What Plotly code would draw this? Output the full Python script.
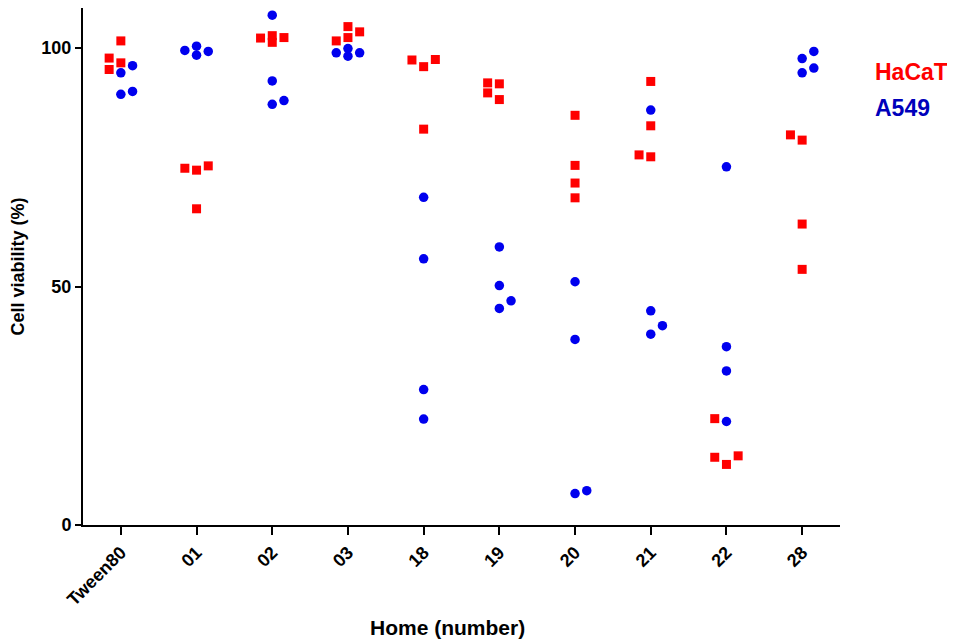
import plotly.graph_objects as go

categories = ["Tween80", "01", "02", "03", "18", "19", "20", "21", "22", "28"]

hacat = [
    [101.5, 97.9, 96.9, 95.5],
    [75.3, 74.8, 74.4, 66.3],
    [102.6, 102.2, 102.1, 101.2],
    [104.5, 103.4, 102.2, 101.5],
    [97.6, 97.5, 96.1, 83.0],
    [92.7, 92.5, 90.6, 89.2],
    [85.9, 75.4, 71.7, 68.6],
    [93.0, 83.7, 77.6, 77.2],
    [22.3, 14.5, 14.2, 12.7],
    [81.8, 80.7, 63.1, 53.6],
]

a549 = [
    [96.3, 94.8, 90.9, 90.3],
    [100.4, 99.5, 99.3, 98.5],
    [106.9, 93.1, 89.0, 88.2],
    [99.9, 99.0, 99.0, 98.3],
    [68.7, 55.8, 28.4, 22.2],
    [58.3, 50.2, 47.0, 45.4],
    [51.0, 38.9, 7.2, 6.6],
    [87.0, 44.9, 41.8, 40.0],
    [75.1, 37.4, 32.3, 21.7],
    [99.3, 97.8, 95.8, 94.8],
]

y_ticks = [0, 50, 100]

# layout geometry (page body adds an 8px offset)
W, H = 947, 631
ML, MR, MT, MB = 75, 115, 0, 114
Y_MAX = 108.4
plot_w = W - ML - MR
plot_h = H - MT - MB
px_per_unit = plot_h / Y_MAX
px_per_cat = plot_w / len(categories)
step_px = 11.7
min_dist = 9.5


def swarm(values, side, obstacles=None):
    """Deterministic beeswarm offsets; returns offsets (category units) and placed px points."""
    order = sorted(range(len(values)), key=lambda i: values[i])
    fixed = list(obstacles or [])
    placed = []
    offs = [0.0] * len(values)
    cands = [0, side, -side, 0.5 * side, -0.5 * side]
    for i in order:
        y = values[i] * px_per_unit
        best, best_d = cands[0], -1.0
        for c in cands:
            x = c * step_px
            d = min([((x - px) ** 2 + (y - py) ** 2) ** 0.5 for px, py in placed + fixed] or [1e9])
            if d >= min_dist:
                best = c
                break
            if d > best_d:
                best, best_d = c, d
        placed.append((best * step_px, y))
        offs[i] = best * step_px / px_per_cat
    return offs, placed


ax, ay, hx, hy = [], [], [], []
for ci in range(len(categories)):
    b_offs, b_pts = swarm(a549[ci], 1)
    r_offs, _ = swarm(hacat[ci], -1, b_pts)
    for v, o in zip(a549[ci], b_offs):
        ax.append(ci + o)
        ay.append(v)
    for v, o in zip(hacat[ci], r_offs):
        hx.append(ci + o)
        hy.append(v)

fig = go.Figure()
fig.add_trace(go.Scatter(
    x=ax, y=ay, mode="markers", name="A549",
    marker=dict(symbol="circle", size=9.5, color="#0000ee", line=dict(width=0)),
    showlegend=False, cliponaxis=False,
))
fig.add_trace(go.Scatter(
    x=hx, y=hy, mode="markers", name="HaCaT",
    marker=dict(symbol="square", size=9, color="#ff0000", line=dict(width=0)),
    showlegend=False, cliponaxis=False,
))

font_family = "Liberation Sans, Arial, sans-serif"

fig.update_layout(
    width=W, height=H,
    margin=dict(l=ML, r=MR, t=MT, b=MB, autoexpand=False),
    paper_bgcolor="white", plot_bgcolor="white",
    font=dict(family=font_family, color="black"),
    xaxis=dict(
        range=[-0.5, len(categories) - 0.5],
        tickmode="array",
        tickvals=list(range(len(categories))),
        ticktext=[f"<b>{c}</b>" for c in categories],
        tickangle=-45,
        tickfont=dict(size=18, family=font_family, color="black"),
        ticks="outside", ticklen=8, tickwidth=2, tickcolor="black",
        showline=True, linewidth=2, linecolor="black",
        showgrid=False, zeroline=False, automargin=False,
    ),
    yaxis=dict(
        range=[0, Y_MAX],
        tickmode="array",
        tickvals=y_ticks,
        ticktext=[f"<b>{t}</b>" for t in y_ticks],
        tickfont=dict(size=18, family=font_family, color="black"),
        ticks="outside", ticklen=6, tickwidth=2, tickcolor="black",
        showline=True, linewidth=2, linecolor="black",
        showgrid=False, zeroline=False, automargin=False,
        title=dict(text="<b>Cell viability (%)</b>", font=dict(size=18, family=font_family), standoff=14),
    ),
    annotations=[
        dict(text="<b>Home (number)</b>", x=0.481, y=-0.199, xref="paper", yref="paper",
             xanchor="center", yanchor="middle", showarrow=False,
             font=dict(size=21, color="black", family=font_family)),
        dict(text="<b>HaCaT</b>", x=1.043, y=0.876, xref="paper", yref="paper",
             xanchor="left", yanchor="middle", showarrow=False,
             font=dict(size=23, color="#ff0000", family=font_family)),
        dict(text="<b>A549</b>", x=1.043, y=0.8066, xref="paper", yref="paper",
             xanchor="left", yanchor="middle", showarrow=False,
             font=dict(size=23, color="#0000bb", family=font_family)),
    ],
)

fig.write_html("out.html")
